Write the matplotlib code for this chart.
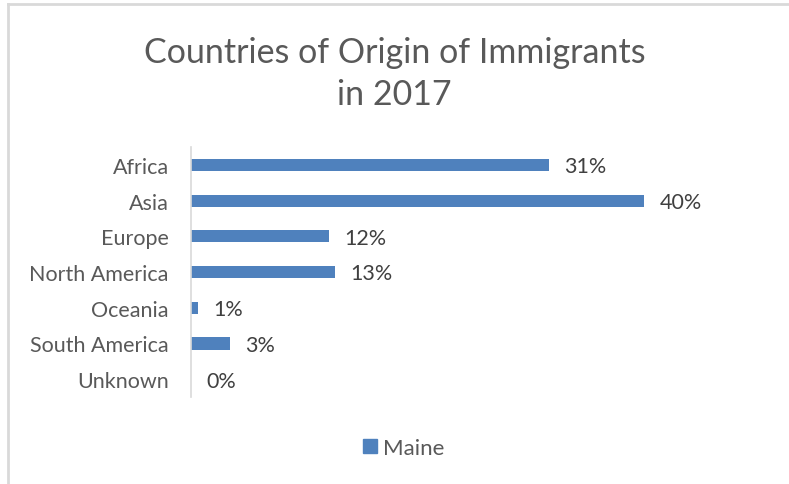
import matplotlib
matplotlib.use('Agg')
import matplotlib.pyplot as plt
from matplotlib.lines import Line2D
from matplotlib.patches import Patch

regions = ['Africa', 'Asia', 'Europe', 'North America', 'Oceania', 'South America', 'Unknown']
shares = [31.3, 39.7, 12.1, 12.6, 0.6, 3.4, 0.0]
series = 'Maine'
title = 'Countries of Origin of Immigrants\nin 2017'

bar_color = '#4f81bd'
text_gray = '#595959'

plt.rcParams['font.family'] = ['Lato', 'DejaVu Sans']

W, H = 789, 485
fig = plt.figure(figsize=(W / 100, H / 100), dpi=100)
ax = fig.add_axes([191 / W, 87 / H, (705 - 191) / W, (398 - 148) / H])

ypos = list(range(len(regions)))
ax.barh(ypos, shares, height=0.34, color=bar_color)
ax.set_ylim(len(regions) - 0.5, -0.5)
ax.set_xlim(0, 45)
ax.set_yticks(ypos)
ax.set_yticklabels(regions, fontsize=15.5, color=text_gray)
ax.set_xticks([])
ax.tick_params(axis='y', length=0, pad=16)
for s in ['top', 'right', 'bottom']:
	ax.spines[s].set_visible(False)
ax.spines['left'].set_color('#d9d9d9')
ax.spines['left'].set_linewidth(1.2)

for y, v in zip(ypos, shares):
	ax.annotate('%.0f%%' % v, (v, y), xytext=(11, -1), textcoords='offset points',
		va='center', ha='left', fontsize=15.5, color='#404040')

fig.text(0.5, 1 - 74 / H, title, ha='center', va='center', fontsize=24.5,
	color=text_gray, linespacing=1.35)

fig.legend(handles=[Patch(color=bar_color, label=series)], loc='center',
	bbox_to_anchor=(404 / W, 1 - 449 / H), frameon=False, fontsize=16,
	handlelength=0.6, handleheight=0.6, handletextpad=0.3, labelcolor=text_gray)

# chart frame (top and left edges only)
fig.add_artist(Line2D([8 / W, 8 / W], [0, 1 - 5 / H], color='#d9d9d9', lw=2))
fig.add_artist(Line2D([8 / W, 1], [1 - 5 / H, 1 - 5 / H], color='#d9d9d9', lw=2))

fig.savefig('out.png', dpi=100)
